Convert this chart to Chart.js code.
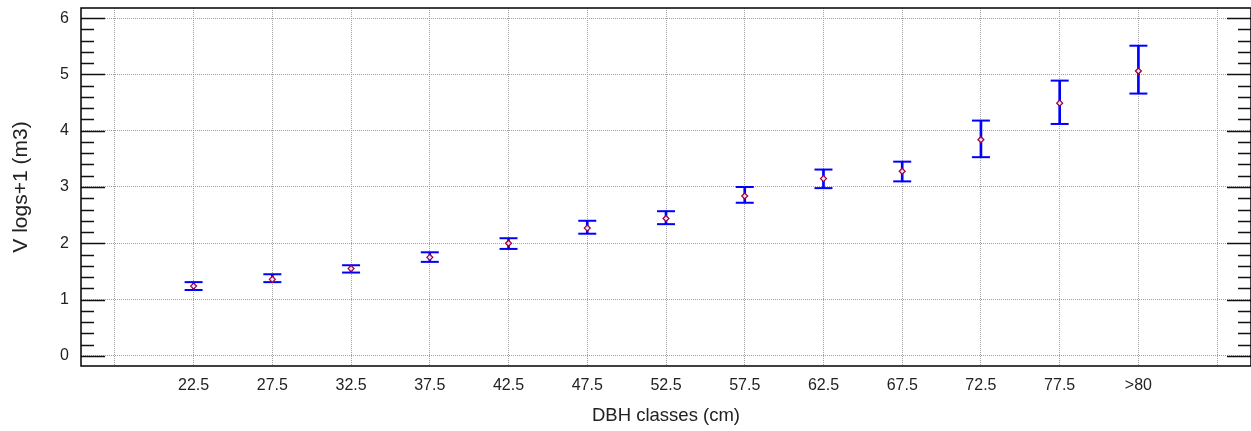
<!DOCTYPE html>
<html>
<head>
<meta charset="utf-8">
<script src="https://cdn.jsdelivr.net/npm/chart.js@4"></script>
<style>
    body { margin: 0; background: #fff; }
    #wrap { width: 1251px; height: 431px; position: relative; }
</style>
</head>
<body>
<div id="wrap"><canvas id="canvas"></canvas></div>
<script>
const categories = ['22.5', '27.5', '32.5', '37.5', '42.5', '47.5', '52.5', '57.5', '62.5', '67.5', '72.5', '77.5', '>80'];
const means = [1.24, 1.36, 1.55, 1.75, 2.00, 2.27, 2.44, 2.84, 3.15, 3.28, 3.84, 4.49, 5.06];
const upper = [1.31, 1.45, 1.61, 1.84, 2.09, 2.40, 2.57, 3.00, 3.31, 3.45, 4.18, 4.89, 5.51];
const lower = [1.17, 1.31, 1.48, 1.67, 1.90, 2.17, 2.34, 2.72, 2.98, 3.10, 3.53, 4.12, 4.66];

const FONT = 'Arial, "Liberation Sans", sans-serif';

// x position of each class: slot 0 and slot 14 stay empty
const xs = categories.map((c, i) => i + 1);

// inside ticks on left and right edge + frame
const frameTicks = {
    id: 'frameTicks',
    afterDraw(chart) {
        const ctx = chart.ctx;
        const a = chart.chartArea;
        const y = chart.scales.y;
        ctx.save();
        ctx.strokeStyle = '#111';
        ctx.lineWidth = 1.5;
        for (let k = 0; k <= 30; k++) {
            const v = k / 5;
            const py = Math.round(y.getPixelForValue(v)) + 0.5;
            const len = k % 5 === 0 ? 24 : 13;
            ctx.beginPath();
            ctx.moveTo(a.left, py);
            ctx.lineTo(a.left + len, py);
            ctx.moveTo(a.right, py);
            ctx.lineTo(a.right - len, py);
            ctx.stroke();
        }
        ctx.strokeStyle = '#000';
        ctx.lineWidth = 1.5;
        ctx.strokeRect(a.left, a.top, a.right - a.left, a.bottom - a.top);
        ctx.restore();
    }
};

function noPadding(s) {
    s.paddingTop = 0;
    s.paddingBottom = 0;
    s.paddingLeft = 0;
    s.paddingRight = 0;
}

const ctx = document.getElementById('canvas').getContext('2d');
new Chart(ctx, {
    type: 'bar',
    data: {
        datasets: [{
            type: 'scatter',
            label: 'mean',
            data: xs.map((x, i) => ({ x: x, y: means[i] })),
            pointStyle: 'rectRot',
            pointRadius: 3,
            borderWidth: 1.2,
            borderColor: '#9a0038',
            backgroundColor: '#e8dcff',
            order: 0,
        }, {
            type: 'scatter',
            label: 'upper',
            data: xs.map((x, i) => ({ x: x, y: upper[i] })),
            pointStyle: 'line',
            pointRadius: 9,
            borderWidth: 2,
            borderColor: '#0000ff',
            order: 1,
        }, {
            type: 'scatter',
            label: 'lower',
            data: xs.map((x, i) => ({ x: x, y: lower[i] })),
            pointStyle: 'line',
            pointRadius: 9,
            borderWidth: 2,
            borderColor: '#0000ff',
            order: 1,
        }, {
            type: 'bar',
            label: 'range',
            data: xs.map((x, i) => ({ x: x, y: [lower[i], upper[i]] })),
            backgroundColor: '#0000ff',
            barThickness: 2,
            grouped: false,
            order: 2,
        }]
    },
    options: {
        responsive: true,
        maintainAspectRatio: false,
        animation: false,
        devicePixelRatio: 1,
        layout: { autoPadding: false, padding: { top: 8, right: 0, left: 0, bottom: 0 } },
        plugins: {
            legend: { display: false },
            tooltip: { enabled: false },
        },
        scales: {
            x: {
                type: 'linear',
                min: -0.43,
                max: 14.43,
                offset: false,
                afterFit: (s) => { s.height = 65; noPadding(s); },
                border: { display: false, dash: [1, 1] },
                grid: {
                    offset: false,
                    color: '#a0a0a0',
                    lineWidth: 1,
                    drawTicks: false,
                },
                ticks: {
                    stepSize: 1,
                    includeBounds: false,
                    autoSkip: false,
                    maxRotation: 0,
                    padding: 10,
                    color: '#222',
                    font: { family: FONT, size: 16 },
                    callback: (v) => categories[v - 1] || '',
                },
                title: {
                    display: true,
                    text: 'DBH classes (cm)',
                    color: '#222',
                    font: { family: FONT, size: 18.5 },
                    padding: { top: 0, bottom: 4 },
                },
            },
            y: {
                min: -0.18,
                max: 6.18,
                afterFit: (s) => { s.width = 81; noPadding(s); },
                border: { display: false, dash: [1, 1] },
                grid: {
                    color: '#a0a0a0',
                    lineWidth: 1,
                    drawTicks: false,
                },
                ticks: {
                    stepSize: 1,
                    includeBounds: false,
                    padding: 12,
                    color: '#222',
                    font: { family: FONT, size: 16 },
                },
                title: {
                    display: true,
                    text: 'V logs+1 (m3)',
                    color: '#222',
                    font: { family: FONT, size: 21 },
                    padding: { top: 9, bottom: 0 },
                },
            }
        }
    },
    plugins: [frameTicks]
});
</script>
</body>
</html>
